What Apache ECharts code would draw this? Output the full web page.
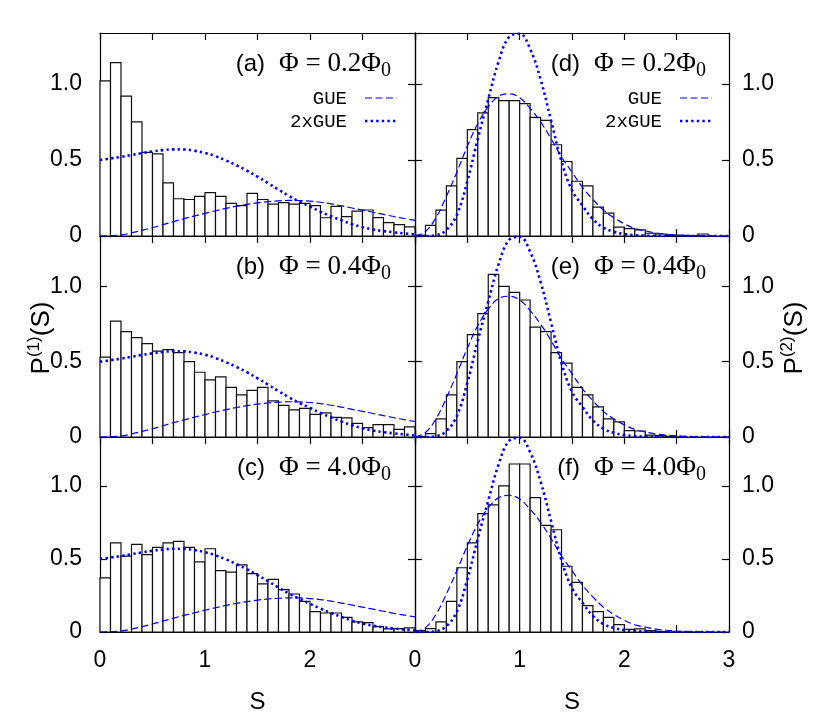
<!DOCTYPE html>
<html>
<head>
<meta charset="utf-8">
<title>Level spacing distributions</title>
<script src="https://cdn.jsdelivr.net/npm/echarts@6.0.0/dist/echarts.min.js"></script>
<style>
  html, body { margin: 0; padding: 0; background: #fff; }
  #chart { width: 830px; height: 724px; }
</style>
</head>
<body>
<div id="chart"></div>
<script>
// histogram bin edges (S), 30 bins of 0.1
const binEdges = [0, 0.1, 0.2, 0.3, 0.4, 0.5, 0.6, 0.7, 0.8, 0.9, 1.0, 1.1, 1.2, 1.3, 1.4, 1.5,
  1.6, 1.7, 1.8, 1.9, 2.0, 2.1, 2.2, 2.3, 2.4, 2.5, 2.6, 2.7, 2.8, 2.9, 3.0];

// P(1)(S) histograms, left column
const histA = [1.02, 1.14, 0.92, 0.75, 0.55, 0.54, 0.35, 0.245, 0.24, 0.26, 0.285, 0.26, 0.215, 0.20, 0.28,
  0.24, 0.21, 0.22, 0.21, 0.215, 0.20, 0.12, 0.195, 0.127, 0.164, 0.171, 0.121, 0.088, 0.075, 0.06];
const histB = [0.53, 0.77, 0.70, 0.66, 0.62, 0.57, 0.58, 0.56, 0.50, 0.43, 0.38, 0.40, 0.33, 0.28, 0.31,
  0.33, 0.24, 0.21, 0.18, 0.19, 0.15, 0.16, 0.13, 0.127, 0.09, 0.062, 0.082, 0.082, 0.051, 0.067];
const histC = [0.37, 0.61, 0.52, 0.60, 0.53, 0.58, 0.61, 0.62, 0.58, 0.48, 0.57, 0.42, 0.41, 0.46, 0.40,
  0.33, 0.36, 0.29, 0.26, 0.21, 0.14, 0.13, 0.13, 0.10, 0.07, 0.064, 0.037, 0.021, 0.023, 0.028];

// P(2)(S) histograms, right column
const histD = [0.005, 0.07, 0.17, 0.33, 0.51, 0.70, 0.81, 0.91, 0.89, 0.89, 0.87, 0.78, 0.76, 0.60, 0.49,
  0.36, 0.33, 0.19, 0.15, 0.058, 0.049, 0.04, 0.018, 0.013, 0.007, 0.004, 0.002, 0.013, 0, 0];
const histE = [0.003, 0.022, 0.12, 0.28, 0.50, 0.68, 0.82, 1.08, 1.00, 0.96, 0.91, 0.73, 0.70, 0.56, 0.49,
  0.33, 0.28, 0.20, 0.12, 0.10, 0.042, 0.04, 0.013, 0.009, 0.003, 0.001, 0, 0, 0, 0];
const histF = [0.01, 0.023, 0.07, 0.21, 0.44, 0.61, 0.81, 0.87, 1.00, 1.15, 1.15, 0.92, 0.73, 0.70, 0.45,
  0.34, 0.18, 0.14, 0.10, 0.05, 0.018, 0.021, 0.009, 0.003, 0.001, 0, 0, 0, 0, 0];

// reference curves, sampled at these S
const curveS = [0, 0.1, 0.2, 0.3, 0.4, 0.5, 0.6, 0.7, 0.8, 0.9, 1.0, 1.1, 1.2, 1.3, 1.4, 1.5,
  1.6, 1.7, 1.8, 1.9, 2.0, 2.1, 2.2, 2.3, 2.4, 2.5, 2.6, 2.7, 2.8, 2.9, 3.0];
const gueLeft = [0, 0.002, 0.007, 0.02, 0.037, 0.055, 0.075, 0.095, 0.114, 0.132, 0.149, 0.166, 0.182,
  0.196, 0.208, 0.218, 0.226, 0.231, 0.234, 0.233, 0.229, 0.222, 0.211, 0.198, 0.184, 0.170, 0.156,
  0.142, 0.128, 0.115, 0.103];
const twoGueLeft = [0.50, 0.51, 0.52, 0.533, 0.545, 0.556, 0.565, 0.570, 0.569, 0.561, 0.546, 0.525,
  0.497, 0.465, 0.43, 0.39, 0.348, 0.305, 0.263, 0.226, 0.193, 0.160, 0.130, 0.103, 0.078, 0.058,
  0.043, 0.032, 0.024, 0.017, 0.01];
const gueRight = [0, 0.03, 0.12, 0.26, 0.42, 0.59, 0.74, 0.85, 0.92, 0.935, 0.91, 0.84, 0.75, 0.64,
  0.52, 0.42, 0.32, 0.24, 0.17, 0.12, 0.08, 0.05, 0.033, 0.02, 0.012, 0.007, 0.004, 0.002, 0.001, 0, 0];
const twoGueRight = [0, 0, 0.005, 0.04, 0.14, 0.36, 0.64, 0.90, 1.15, 1.31, 1.33, 1.23, 1.03, 0.76,
  0.49, 0.30, 0.20, 0.11, 0.055, 0.028, 0.013, 0.006, 0.003, 0.001, 0, 0, 0, 0, 0, 0, 0];

const yTicks = [0, 0.5, 1.0];
const xTickLabels = ['0', '1', '2', '3'];

const panels = [
  { tag: '(a)', flux: '0.2', hist: histA, col: 0, row: 0 },
  { tag: '(d)', flux: '0.2', hist: histD, col: 1, row: 0 },
  { tag: '(b)', flux: '0.4', hist: histB, col: 0, row: 1 },
  { tag: '(e)', flux: '0.4', hist: histE, col: 1, row: 1 },
  { tag: '(c)', flux: '4.0', hist: histC, col: 0, row: 2 },
  { tag: '(f)', flux: '4.0', hist: histF, col: 1, row: 2 }
];

const colLeft = [100, 415];
const colWidth = [315, 314];
const rowTop = [33, 236, 437];
const rowHeight = [203, 201, 195];
const yMax = 1.335;
const blue = '#0000ff';
const sans = 'Liberation Sans';

function zip(xs, ys) { return xs.map((x, i) => [x, ys[i]]); }

function xAxisCfg(g, pos, labels, hideMax) {
  return {
    type: 'value', gridIndex: g, position: pos, min: 0, max: 3, interval: 0.5,
    name: labels ? 'S' : '', nameLocation: 'middle', nameGap: 58,
    nameTextStyle: { fontFamily: sans, fontSize: 24, color: '#000' },
    axisLine: { show: true, onZero: false, lineStyle: { color: '#000', width: 1.2 } },
    axisTick: { show: true, inside: true, length: 7, lineStyle: { color: '#000', width: 1.2 } },
    axisLabel: {
      show: labels, interval: 0, margin: 17, showMaxLabel: !hideMax,
      fontFamily: sans, fontSize: 23, color: '#000',
      formatter: v => (Math.abs(v - Math.round(v)) < 1e-6 ? xTickLabels[Math.round(v)] : '')
    },
    splitLine: { show: false }
  };
}

function yAxisCfg(g, pos, labels) {
  return {
    type: 'value', gridIndex: g, position: pos, min: 0, max: yMax, interval: 0.5,
    axisLine: { show: true, onZero: false, lineStyle: { color: '#000', width: 1.2 } },
    axisTick: { show: true, inside: true, length: 7, lineStyle: { color: '#000', width: 1.2 } },
    axisLabel: {
      show: labels, showMaxLabel: false, margin: pos === 'left' ? 18 : 13,
      fontFamily: sans, fontSize: 23, color: '#000',
      formatter: v => {
        const t = yTicks.find(k => Math.abs(k - v) < 1e-6);
        return t === undefined ? '' : (t === 0 ? '0' : t.toFixed(1));
      }
    },
    splitLine: { show: false }
  };
}

function renderBin(params, api) {
  const a = api.coord([api.value(0), api.value(2)]);
  const b = api.coord([api.value(1), 0]);
  return {
    type: 'rect',
    shape: { x: a[0], y: a[1], width: b[0] - a[0], height: b[1] - a[1] },
    style: { fill: '#fff', stroke: '#111', lineWidth: 1.2 }
  };
}

const grids = [], xAxes = [], yAxes = [], series = [], graphics = [];

panels.forEach((p, g) => {
  const left = colLeft[p.col], top = rowTop[p.row];
  grids.push({ left: left, top: top, width: colWidth[p.col], height: rowHeight[p.row] });
  const bottomRow = p.row === 2;
  xAxes.push(xAxisCfg(g, 'bottom', bottomRow, p.col === 0));
  xAxes.push(xAxisCfg(g, 'top', false, false));
  yAxes.push(yAxisCfg(g, 'left', p.col === 0));
  yAxes.push(yAxisCfg(g, 'right', p.col === 1));

  const bins = p.hist.map((v, i) => [binEdges[i], binEdges[i + 1], v]);
  series.push({
    type: 'custom', xAxisIndex: 2 * g, yAxisIndex: 2 * g, renderItem: renderBin,
    encode: { x: [0, 1], y: 2 }, data: bins, z: 2, silent: true
  });
  const gue = p.col === 0 ? gueLeft : gueRight;
  const two = p.col === 0 ? twoGueLeft : twoGueRight;
  series.push({
    type: 'line', name: 'GUE', xAxisIndex: 2 * g, yAxisIndex: 2 * g, data: zip(curveS, gue),
    showSymbol: false, smooth: 0.4, z: 3, silent: true,
    lineStyle: { color: blue, width: 1.2, type: [7, 3.5] }
  });
  series.push({
    type: 'line', name: '2xGUE', xAxisIndex: 2 * g, yAxisIndex: 2 * g, data: zip(curveS, two),
    showSymbol: false, smooth: 0.4, z: 4, silent: true,
    lineStyle: { color: blue, width: 2.6, type: [2.4, 3.2] }
  });

  // panel label
  graphics.push({
    type: 'text', x: left + 165, y: top + 31,
    style: { text: p.tag, fontFamily: sans, fontSize: 24, fill: '#000', align: 'right', verticalAlign: 'middle' }
  });
  graphics.push({
    type: 'text', x: left + 179, y: top + 31,
    style: {
      text: '{f|Φ = ' + p.flux + 'Φ}{s|0}', align: 'left', verticalAlign: 'middle',
      rich: {
        f: { fontFamily: 'Liberation Serif', fontSize: 27, lineHeight: 34, fill: '#000' },
        s: { fontFamily: 'Liberation Serif', fontSize: 20, lineHeight: 20, verticalAlign: 'bottom', fill: '#000' }
      }
    }
  });

  if (p.row === 0) {
    const mono = 'Liberation Mono';
    graphics.push({
      type: 'text', x: left + 247, y: top + 66,
      style: { text: 'GUE', fontFamily: mono, fontSize: 19, fill: '#000', align: 'right', verticalAlign: 'middle' }
    });
    graphics.push({
      type: 'text', x: left + 247, y: top + 89,
      style: { text: '2xGUE', fontFamily: mono, fontSize: 19, fill: '#000', align: 'right', verticalAlign: 'middle' }
    });
    graphics.push({
      type: 'line', shape: { x1: left + 265, y1: top + 65, x2: left + 297, y2: top + 65 },
      style: { stroke: blue, lineWidth: 1.2, lineDash: [7, 3.5] }
    });
    graphics.push({
      type: 'line', shape: { x1: left + 265, y1: top + 88, x2: left + 297, y2: top + 88 },
      style: { stroke: blue, lineWidth: 2.6, lineDash: [2.4, 3.2] }
    });
  }
});

// y-axis titles
[['(1)', 42], ['(2)', 795]].forEach(([sup, x]) => {
  graphics.push({
    type: 'text', x: x, y: 338, rotation: Math.PI / 2,
    style: {
      text: '{m|P}{s|' + sup + '}{m|(S)}', align: 'center', verticalAlign: 'middle',
      rich: {
        m: { fontFamily: sans, fontSize: 26, lineHeight: 32, fill: '#000' },
        s: { fontFamily: sans, fontSize: 17, lineHeight: 17, verticalAlign: 'top', fill: '#000' }
      }
    }
  });
});

const chart = echarts.init(document.getElementById('chart'), null, { renderer: 'canvas' });
chart.setOption({
  animation: false,
  backgroundColor: '#fff',
  grid: grids,
  xAxis: xAxes,
  yAxis: yAxes,
  series: series,
  graphic: graphics
});
</script>
</body>
</html>
